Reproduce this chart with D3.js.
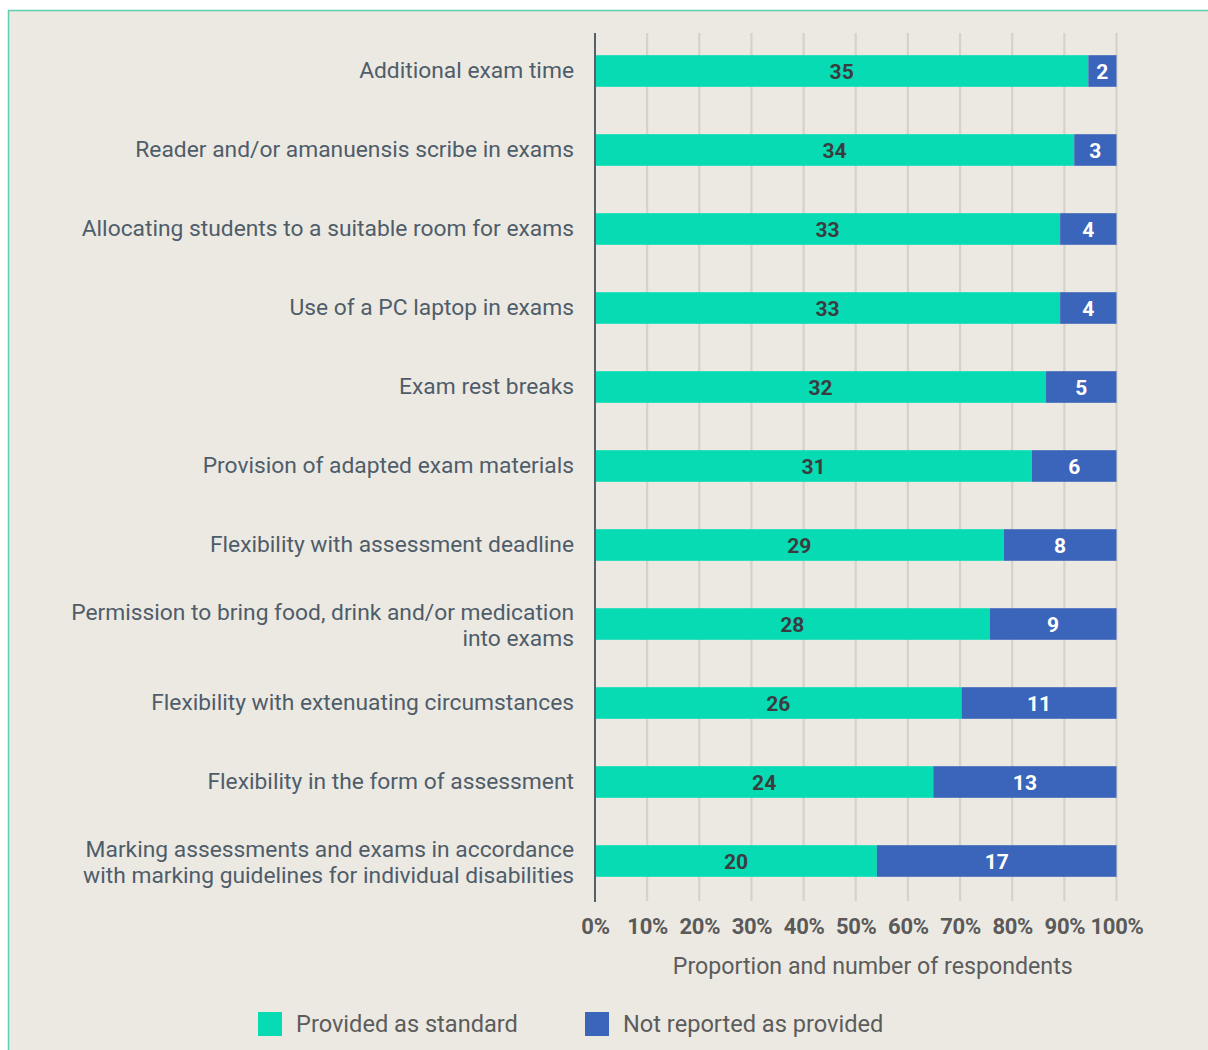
<!DOCTYPE html>
<html>
<head>
<meta charset="utf-8">
<script src="https://cdn.jsdelivr.net/npm/d3@7"></script>
<style>
  html, body { margin: 0; padding: 0; background: #ffffff; }
  svg { display: block; }
</style>
</head>
<body>
<svg id="chart" width="1208" height="1050"></svg>
<script>
// Exam and assessment adjustments: respondents reporting each as standard vs not
const categories = [
  ["Additional exam time"],
  ["Reader and/or amanuensis scribe in exams"],
  ["Allocating students to a suitable room for exams"],
  ["Use of a PC laptop in exams"],
  ["Exam rest breaks"],
  ["Provision of adapted exam materials"],
  ["Flexibility with assessment deadline"],
  ["Permission to bring food, drink and/or medication", "into exams"],
  ["Flexibility with extenuating circumstances"],
  ["Flexibility in the form of assessment"],
  ["Marking assessments and exams in accordance", "with marking guidelines for individual disabilities"]
];
const providedValues = [35, 34, 33, 33, 32, 31, 29, 28, 26, 24, 20];
const notProvidedValues = [2, 3, 4, 4, 5, 6, 8, 9, 11, 13, 17];
const tickValues = [0, 10, 20, 30, 40, 50, 60, 70, 80, 90, 100];
const seriesNames = ["Provided as standard", "Not reported as provided"];
const seriesColors = ["#06dbb4", "#3b64bb"];

const svg = d3.select("#chart");
const fontFamily = "Roboto, 'Noto Sans', sans-serif";

// Panel background with teal frame on the top and left edges
svg.append("rect")
  .attr("x", 8.5).attr("y", 10.5)
  .attr("width", 1240).attr("height", 1080)
  .attr("fill", "#ece9e2")
  .attr("stroke", "#5fcfae")
  .attr("stroke-width", 1.5);

const x0 = 595, x1 = 1116.5;
const x = d3.scaleLinear().domain([0, 100]).range([x0, x1]);
const keys = categories.map((c, i) => i);
const y = d3.scaleBand().domain(keys).range([31.5, 900.5])
  .paddingInner(0.6).paddingOuter(0.3);

const rows = keys.map(i => {
  const total = providedValues[i] + notProvidedValues[i];
  return {
    i,
    label: categories[i],
    a: providedValues[i],
    b: notProvidedValues[i],
    pa: providedValues[i] / total * 100
  };
});

// Vertical gridlines
svg.append("g").selectAll("line")
  .data(tickValues.slice(1))
  .join("line")
  .attr("x1", d => x(d)).attr("x2", d => x(d))
  .attr("y1", 33).attr("y2", 901)
  .attr("stroke", "#d5d2ca")
  .attr("stroke-width", 2.2);

// Stacked bars
const barG = svg.append("g");
barG.selectAll("rect.a").data(rows).join("rect")
  .attr("class", "a")
  .attr("x", x(0))
  .attr("y", d => y(d.i))
  .attr("width", d => x(d.pa) - x(0))
  .attr("height", y.bandwidth())
  .attr("fill", seriesColors[0]);
barG.selectAll("rect.b").data(rows).join("rect")
  .attr("class", "b")
  .attr("x", d => x(d.pa))
  .attr("y", d => y(d.i))
  .attr("width", d => x(100) - x(d.pa))
  .attr("height", y.bandwidth())
  .attr("fill", seriesColors[1]);

// Value labels centred in each segment
barG.selectAll("text.a").data(rows).join("text")
  .attr("class", "a")
  .attr("x", d => (x(0) + x(d.pa)) / 2)
  .attr("y", d => y(d.i) + y.bandwidth() / 2)
  .attr("dy", "0.36em")
  .attr("text-anchor", "middle")
  .attr("font-family", fontFamily)
  .attr("font-weight", "bold")
  .attr("font-size", 21)
  .attr("fill", "#3a3d40")
  .text(d => d.a);
barG.selectAll("text.b").data(rows).join("text")
  .attr("class", "b")
  .attr("x", d => (x(d.pa) + x(100)) / 2)
  .attr("y", d => y(d.i) + y.bandwidth() / 2)
  .attr("dy", "0.36em")
  .attr("text-anchor", "middle")
  .attr("font-family", fontFamily)
  .attr("font-weight", "bold")
  .attr("font-size", 21)
  .attr("fill", "#ffffff")
  .text(d => d.b);

// Category axis line
svg.append("line")
  .attr("x1", x0).attr("x2", x0)
  .attr("y1", 33).attr("y2", 902)
  .attr("stroke", "#56606b")
  .attr("stroke-width", 2);

// Category labels (right aligned, possibly two lines)
const labG = svg.append("g");
rows.forEach(d => {
  const cy = y(d.i) + y.bandwidth() / 2;
  const n = d.label.length;
  const shift = n > 1 ? 1 : -1.5;
  d.label.forEach((line, k) => {
    labG.append("text")
      .attr("x", 574)
      .attr("y", cy + (k - (n - 1) / 2) * 26 + shift)
      .attr("dy", "0.36em")
      .attr("text-anchor", "end")
      .attr("font-family", fontFamily)
      .attr("font-size", 22.8)
      .attr("fill", "#4f5d6a")
      .text(line);
  });
});

// Percentage axis
const xAxis = d3.axisBottom(x)
  .tickValues(tickValues)
  .tickFormat(d => d + "%")
  .tickSize(0)
  .tickPadding(0);
const axG = svg.append("g")
  .attr("transform", "translate(0,926)")
  .call(xAxis);
axG.select(".domain").remove();
axG.selectAll("text")
  .attr("dy", "0.36em")
  .attr("y", 0)
  .attr("font-family", fontFamily)
  .attr("font-weight", "bold")
  .attr("font-size", 22)
  .attr("letter-spacing", -0.3)
  .attr("fill", "#5a5a5a");

svg.append("text")
  .attr("x", (x0 + x1) / 2 + 17)
  .attr("y", 966)
  .attr("dy", "0.36em")
  .attr("text-anchor", "middle")
  .attr("font-family", fontFamily)
  .attr("font-size", 23.2)
  .attr("fill", "#5c5c5c")
  .text("Proportion and number of respondents");

// Legend
const legendX = [258, 585];
const legG = svg.append("g");
seriesNames.forEach((name, k) => {
  legG.append("rect")
    .attr("x", legendX[k]).attr("y", 1012)
    .attr("width", 24).attr("height", 24)
    .attr("fill", seriesColors[k]);
  legG.append("text")
    .attr("x", legendX[k] + 38)
    .attr("y", 1024)
    .attr("dy", "0.36em")
    .attr("font-family", fontFamily)
    .attr("font-size", 23.6)
    .attr("fill", "#5c5c5c")
    .text(name);
});
</script>
</body>
</html>
